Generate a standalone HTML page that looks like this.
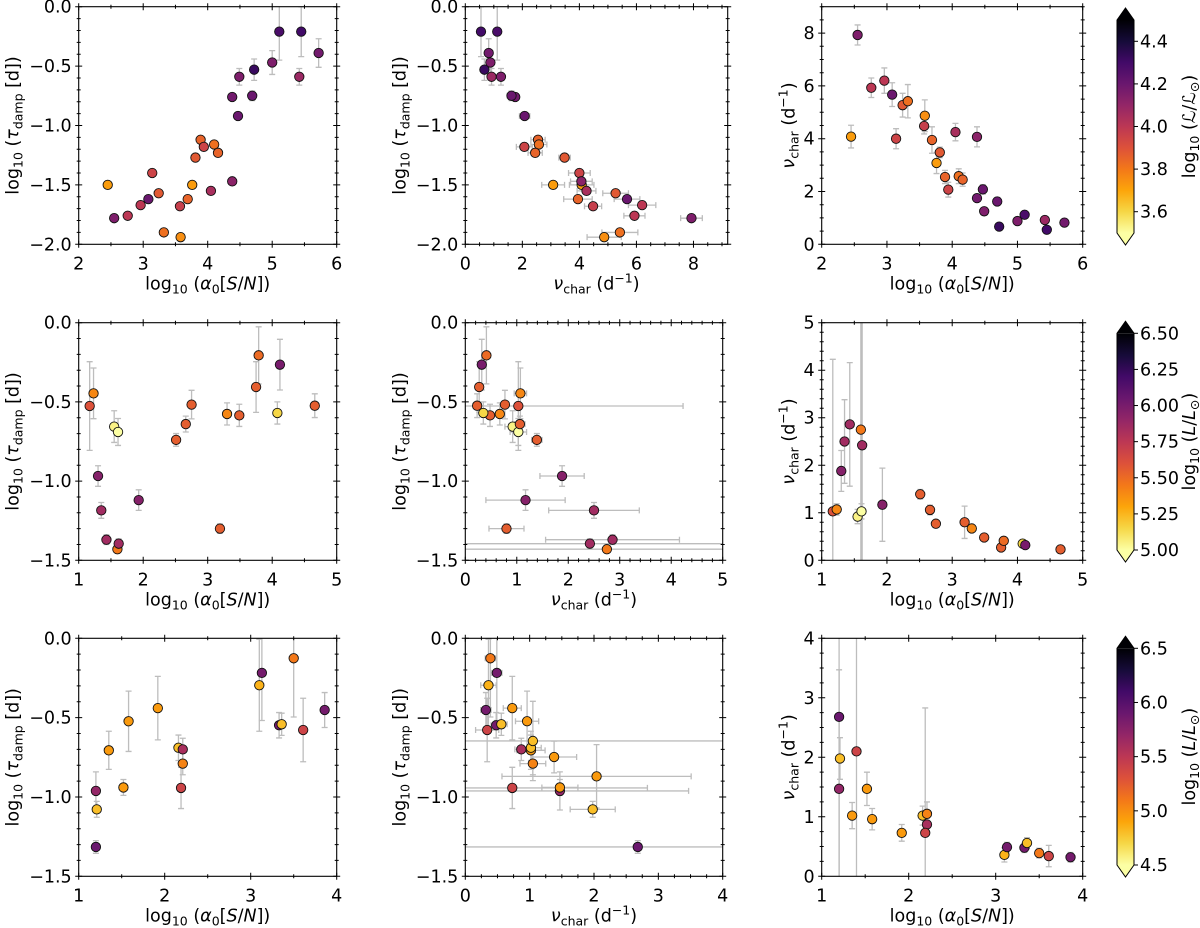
<!DOCTYPE html>
<html><head><meta charset="utf-8">
<style>
html,body{margin:0;padding:0;background:#fff;}
svg{display:block;font-family:"DejaVu Sans","Liberation Sans",sans-serif;}
</style></head>
<body>
<svg id="fig" xmlns="http://www.w3.org/2000/svg" width="1200" height="928" viewBox="0 0 1200 928">
<defs>
<linearGradient id="infgrad" x1="0" y1="1" x2="0" y2="0">
<stop offset="0" stop-color="#fcffa4"/><stop offset="0.1" stop-color="#f6d746"/><stop offset="0.2" stop-color="#fca50a"/><stop offset="0.3" stop-color="#f37819"/><stop offset="0.4" stop-color="#dd513a"/><stop offset="0.5" stop-color="#bc3754"/><stop offset="0.6" stop-color="#932667"/><stop offset="0.7" stop-color="#6a176e"/><stop offset="0.8" stop-color="#420a68"/><stop offset="0.9" stop-color="#160b39"/><stop offset="1" stop-color="#000004"/>
</linearGradient>
</defs>
</svg>
<script>
// ---- Row 1 data ----
const r1_sn=[2.45,2.55,2.76,2.96,3.08,3.14,3.24,3.32,3.57,3.58,3.69,3.76,3.81,3.89,3.94,4.05,4.10,4.16,4.38,4.38,4.47,4.49,4.69,4.72,5.00,5.11,5.42,5.45,5.72];
const r1_tau=[-1.50,-1.78,-1.76,-1.67,-1.62,-1.40,-1.57,-1.90,-1.68,-1.94,-1.62,-1.50,-1.27,-1.12,-1.18,-1.55,-1.16,-1.23,-0.76,-1.47,-0.92,-0.59,-0.75,-0.53,-0.47,-0.21,-0.59,-0.21,-0.39];
const r1_tauErr=[0.02,0.02,0.02,0.02,0.02,0.02,0.02,0.02,0.02,0.02,0.02,0.02,0.02,0.02,0.02,0.02,0.02,0.02,0.02,0.02,0.03,0.07,0.04,0.09,0.1,0.24,0.07,0.21,0.12];
const r1_nu=[4.08,7.93,5.93,6.20,5.67,4.00,5.27,5.42,4.48,4.87,3.95,3.08,3.48,2.55,2.07,4.25,2.58,2.45,1.75,4.07,2.08,1.25,1.62,0.67,0.88,1.12,0.92,0.55,0.82];
const r1_nuErr=[0.43,0.38,0.37,0.48,0.45,0.38,0.45,0.63,0.30,0.60,0.50,0.40,0.20,0.25,0.28,0.33,0.28,0.25,0.12,0.38,0.18,0.10,0.15,0.08,0.08,0.08,0.08,0.08,0.08];
const r1_lum=[3.72,4.15,4.0,4.0,4.2,3.95,3.88,3.82,3.97,3.75,3.85,3.72,3.88,3.85,3.95,4.05,3.82,3.85,4.18,4.12,4.2,4.15,4.2,4.32,4.15,4.28,4.08,4.3,4.18];
// ---- Row 2 data ----
const r2_sn=[1.17,1.23,1.30,1.35,1.43,1.55,1.61,1.60,1.62,1.93,2.51,2.66,2.75,3.19,3.30,3.49,3.75,3.79,4.08,4.12,4.66];
const r2_tau=[-0.526,-0.446,-0.968,-1.185,-1.37,-0.656,-0.69,-1.43,-1.395,-1.12,-0.74,-0.64,-0.517,-1.30,-0.576,-0.585,-0.406,-0.206,-0.57,-0.265,-0.524];
const r2_tauErr=[0.28,0.16,0.065,0.05,0.03,0.1,0.085,0.02,0.03,0.065,0.04,0.05,0.09,0.03,0.07,0.07,0.16,0.18,0.07,0.16,0.075];
const r2_nu=[1.03,1.07,1.88,2.50,2.86,0.92,1.03,2.75,2.42,1.17,1.39,1.06,0.77,0.80,0.67,0.48,0.27,0.41,0.35,0.32,0.23];
const r2_nuErr=[3.2,0.12,0.43,0.88,1.3,0.15,0.16,5,5,0.77,0.1,0.1,0.07,0.34,0.07,0.07,0.06,0.05,0.06,0.03,0.08];
const r2_lum=[5.6,5.4,5.95,5.85,5.85,5.05,5.0,5.45,5.85,5.95,5.55,5.55,5.55,5.55,5.4,5.55,5.55,5.5,5.15,6.0,5.55];
// ---- Row 3 data ----
const r3_sn=[1.20,1.21,1.20,1.35,1.52,1.58,1.92,2.16,2.21,2.21,2.19,3.10,3.13,3.33,3.36,3.50,3.61,3.86,NaN,NaN,NaN,1.40];
const r3_tau=[-0.962,-1.078,-1.315,-0.706,-0.94,-0.523,-0.44,-0.69,-0.70,-0.79,-0.943,-0.296,-0.218,-0.548,-0.542,-0.126,-0.578,-0.452,-0.647,-0.748,-0.87,NaN];
const r3_tauErr=[0.12,0.05,0.04,0.12,0.05,0.19,0.2,0.08,0.07,0.07,0.13,0.29,0.3,0.08,0.07,0.37,0.2,0.11,0.25,0.1,0.2,0];
const r3_nu=[1.47,1.98,2.68,1.02,1.47,0.96,0.73,1.02,0.87,1.05,0.73,0.36,0.49,0.48,0.56,0.39,0.34,0.32,1.05,1.38,2.04,2.10];
const r3_nuErr=[2.0,0.35,3.0,0.22,0.28,0.18,0.14,0.16,0.1,0.2,2.1,0.12,0.08,0.08,0.09,0.08,0.18,0.08,5,0.35,1.47,2.5];
const r3_lum=[5.7,4.8,5.9,4.95,4.95,4.95,4.95,4.8,5.6,5.05,5.4,4.85,5.85,5.85,4.8,5.1,5.4,5.85,4.8,4.95,4.95,5.4];
// colorbar tick labels
const cb1_ticks=["3.6","3.8","4.0","4.2","4.4"];
const cb2_ticks=["5.00","5.25","5.50","5.75","6.00","6.25","6.50"];
const cb3_ticks=["4.5","5.0","5.5","6.0","6.5"];

const NS="http://www.w3.org/2000/svg";
const svg=document.getElementById('fig');
const FS=17.5, SFS=12.5;
const inferno=[[0,0,4],[22,11,57],[66,10,104],[106,23,110],[147,38,103],[188,55,84],[221,81,58],[243,120,25],[252,165,10],[246,215,70],[252,255,164]];
function cmap(v,lo,hi){
  let t=1-(v-lo)/(hi-lo); t=Math.max(0,Math.min(1,t));
  const f=t*10, i=Math.min(9,Math.floor(f)), r=f-i;
  const a=inferno[i], b=inferno[i+1];
  return 'rgb('+a.map((c,k)=>Math.round(c+(b[k]-c)*r)).join(',')+')';
}
function mk(tag,attrs,parent){
  const e=document.createElementNS(NS,tag);
  for(const k in attrs) e.setAttribute(k,attrs[k]);
  (parent||svg).appendChild(e); return e;
}
function fmtTick(v,d){ const s=Math.abs(v).toFixed(d); return (v<-1e-9?'\u2212':'')+s; }
let clipId=0;
const LBL_SN='log<tspan dy="4" font-size="'+SFS+'">10</tspan><tspan dy="-4"> (</tspan><tspan font-style="italic">α</tspan><tspan dy="4" font-size="'+SFS+'">0</tspan><tspan dy="-4">[</tspan><tspan font-style="italic">S</tspan>/<tspan font-style="italic">N</tspan>])';
const LBL_TAU='log<tspan dy="4" font-size="'+SFS+'">10</tspan><tspan dy="-4"> (</tspan><tspan font-style="italic">τ</tspan><tspan dy="4" font-size="'+SFS+'">damp</tspan><tspan dy="-4"> [d])</tspan>';
const LBL_NU='<tspan font-style="italic">ν</tspan><tspan dy="4" font-size="'+SFS+'">char</tspan><tspan dy="-4"> (d</tspan><tspan dy="-7" font-size="'+SFS+'">−1</tspan><tspan dy="7">)</tspan>';

function panel(name,b,xl,yl,xmaj,xmin,xdec,ymaj,ymin,ydec,xs,ys,xe,ye,lum,clo,chi,xlab,ylab,ylabOff){
  const g=mk('g',{});
  
  
  const X=v=>b.x0+(v-xl[0])/(xl[1]-xl[0])*(b.x1-b.x0);
  const Y=v=>b.y1-(v-yl[0])/(yl[1]-yl[0])*(b.y1-b.y0);
  const cid='clip'+(clipId++);
  const cp=mk('clipPath',{id:cid},g); mk('rect',{x:b.x0,y:b.y0,width:b.x1-b.x0,height:b.y1-b.y0},cp);
  const dg=mk('g',{'clip-path':'url(#'+cid+')'},g);
  const ec='#bdbdbd';
  for(let i=0;i<xs.length;i++){
    if(isNaN(xs[i])||isNaN(ys[i])) continue;
    const cx=X(xs[i]), cy=Y(ys[i]);
    if(ye && ye[i]>0){
      const a=Y(ys[i]+ye[i]), c=Y(ys[i]-ye[i]);
      const l=mk('path',{d:`M${cx},${a}V${c}M${cx-3},${a}H${cx+3}M${cx-3},${c}H${cx+3}`,stroke:ec,'stroke-width':1.3,fill:'none'},dg);
      
      
    }
    if(xe && xe[i]>0){
      const a=X(xs[i]-xe[i]), c=X(xs[i]+xe[i]);
      const l=mk('path',{d:`M${a},${cy}H${c}M${a},${cy-3}V${cy+3}M${c},${cy-3}V${cy+3}`,stroke:ec,'stroke-width':1.3,fill:'none'},dg);
      
      
    }
  }
  for(let i=0;i<xs.length;i++){
    if(isNaN(xs[i])||isNaN(ys[i])) continue;
    const p=mk('circle',{cx:X(xs[i]),cy:Y(ys[i]),r:4.7,fill:cmap(lum[i],clo,chi),stroke:'#111','stroke-width':0.9},dg);
    
    
  }
  const tk=mk('g',{stroke:'#000','stroke-width':1},g);
  const eps=1e-6;
  for(let v=xl[0];v<=xl[1]+eps;v+=xmin){
    const isMaj=Math.abs(v/xmaj-Math.round(v/xmaj))<1e-4;
    const L=isMaj?3.5:2, x=X(v);
    mk('path',{d:`M${x},${b.y1-L}V${b.y1+L}M${x},${b.y0-L}V${b.y0+L}`},tk);
  }
  for(let v=yl[0];v<=yl[1]+eps;v+=ymin){
    const isMaj=Math.abs(v/ymaj-Math.round(v/ymaj))<1e-4;
    const L=isMaj?3.5:2, y=Y(v);
    mk('path',{d:`M${b.x0-L},${y}H${b.x0+L}M${b.x1-L},${y}H${b.x1+L}`},tk);
  }
  mk('rect',{x:b.x0,y:b.y0,width:b.x1-b.x0,height:b.y1-b.y0,fill:'none',stroke:'#000','stroke-width':1.1},g);
  for(let v=Math.ceil(xl[0]/xmaj-eps)*xmaj;v<=xl[1]+eps;v+=xmaj){
    const t=mk('text',{x:X(v),y:b.y1+25,'text-anchor':'middle','font-size':FS},g);
    t.textContent=fmtTick(v,xdec);
    
    
  }
  for(let v=Math.ceil(yl[0]/ymaj-eps)*ymaj;v<=yl[1]+eps;v+=ymaj){
    const t=mk('text',{x:b.x0-7,y:Y(v)+6,'text-anchor':'end','font-size':FS},g);
    t.textContent=fmtTick(v,ydec);
    
    
  }
  const xt=mk('text',{x:(b.x0+b.x1)/2,y:b.y1+45,'text-anchor':'middle','font-size':FS},g);
  xt.innerHTML=xlab;
  
  
  const yx=b.x0-ylabOff, yy=(b.y0+b.y1)/2;
  const yt=mk('text',{x:yx,y:yy,'text-anchor':'middle','font-size':FS,transform:`rotate(-90 ${yx} ${yy})`},g);
  yt.innerHTML=ylab;
  
  
}

function colorbar(name,y0,y1,lo,hi,labels,lab){
  const g=mk('g',{});
  
  
  const x0=1117,x1=1134,tri=12;
  mk('rect',{x:x0,y:y0,width:x1-x0,height:y1-y0,fill:'url(#infgrad)'},g);
  mk('path',{d:`M${x0},${y0}L${(x0+x1)/2},${y0-tri}L${x1},${y0}Z`,fill:'#000004'},g);
  mk('path',{d:`M${x0},${y1}L${(x0+x1)/2},${y1+tri}L${x1},${y1}Z`,fill:'#fcffa4'},g);
  mk('path',{d:`M${x0},${y0}L${(x0+x1)/2},${y0-tri}L${x1},${y0}V${y1}L${(x0+x1)/2},${y1+tri}L${x0},${y1}Z`,fill:'none',stroke:'#000','stroke-width':1},g);
  const n=labels.length;
  for(let i=0;i<n;i++){
    const v=parseFloat(labels[i]);
    const y=y1-(v-lo)/(hi-lo)*(y1-y0);
    mk('path',{d:`M${x1},${y}H${x1+4}`,stroke:'#000','stroke-width':1},g);
    const t=mk('text',{x:x1+6,y:y+6,'font-size':FS},g);
    t.textContent=labels[i];
    
    
  }
  const lx=1195, ly=(y0+y1)/2;
  const t=mk('text',{x:lx,y:ly,'text-anchor':'middle','font-size':FS,transform:`rotate(-90 ${lx} ${ly})`},g);
  t.innerHTML=lab;
  
  
}

// Row 1
panel('panel-r1-tau-vs-sn',{x0:78.7,x1:336.7,y0:6.7,y1:244.3},[2,6],[-2,0],1,0.5,0,0.5,0.1,1,r1_sn,r1_tau,null,r1_tauErr,r1_lum,3.5,4.5,LBL_SN,LBL_TAU,60);
panel('panel-r1-tau-vs-nu',{x0:465.3,x1:727.7,y0:6.7,y1:244.3},[0,9.2],[-2,0],2,0.5,0,0.5,0.1,1,r1_nu,r1_tau,r1_nuErr,r1_tauErr,r1_lum,3.5,4.5,LBL_NU,LBL_TAU,60);
panel('panel-r1-nu-vs-sn',{x0:821.7,x1:1082.7,y0:6.7,y1:244.3},[2,6],[0,9],1,0.5,0,2,0.5,0,r1_sn,r1_nu,null,r1_nuErr,r1_lum,3.5,4.5,LBL_SN,LBL_NU,27);
colorbar('colorbar-r1',20,233,3.5,4.5,cb1_ticks,'log<tspan dy="4" font-size="'+SFS+'">10</tspan><tspan dy="-4"> (</tspan><tspan font-style="italic">ℒ</tspan>/<tspan font-style="italic">ℒ</tspan><tspan dy="4" font-size="'+SFS+'">⊙</tspan><tspan dy="-4">)</tspan>');
// Row 2
panel('panel-r2-tau-vs-sn',{x0:78.7,x1:336.7,y0:322.7,y1:560.3},[1,5],[-1.5,0],1,0.5,0,0.5,0.1,1,r2_sn,r2_tau,null,r2_tauErr,r2_lum,5.0,6.5,LBL_SN,LBL_TAU,60);
panel('panel-r2-tau-vs-nu',{x0:465.3,x1:722.7,y0:322.7,y1:560.3},[0,5],[-1.5,0],1,0.2,0,0.5,0.1,1,r2_nu,r2_tau,r2_nuErr,r2_tauErr,r2_lum,5.0,6.5,LBL_NU,LBL_TAU,60);
panel('panel-r2-nu-vs-sn',{x0:821.7,x1:1082.7,y0:322.7,y1:560.3},[1,5],[0,5],1,0.5,0,1,0.2,0,r2_sn,r2_nu,null,r2_nuErr,r2_lum,5.0,6.5,LBL_SN,LBL_NU,27);
colorbar('colorbar-r2',333.3,550,5.0,6.5,cb2_ticks,'log<tspan dy="4" font-size="'+SFS+'">10</tspan><tspan dy="-4"> (</tspan><tspan font-style="italic">L</tspan>/<tspan font-style="italic">L</tspan><tspan dy="4" font-size="'+SFS+'">⊙</tspan><tspan dy="-4">)</tspan>');
// Row 3
panel('panel-r3-tau-vs-sn',{x0:78.7,x1:336.7,y0:638.3,y1:876.3},[1,4],[-1.5,0],1,0.5,0,0.5,0.1,1,r3_sn,r3_tau,null,r3_tauErr,r3_lum,4.5,6.5,LBL_SN,LBL_TAU,60);
panel('panel-r3-tau-vs-nu',{x0:465.3,x1:722.7,y0:638.3,y1:876.3},[0,4],[-1.5,0],1,0.25,0,0.5,0.1,1,r3_nu,r3_tau,r3_nuErr,r3_tauErr,r3_lum,4.5,6.5,LBL_NU,LBL_TAU,60);
panel('panel-r3-nu-vs-sn',{x0:821.7,x1:1082.7,y0:638.3,y1:876.3},[1,4],[0,4],1,0.5,0,1,0.25,0,r3_sn,r3_nu,null,r3_nuErr,r3_lum,4.5,6.5,LBL_SN,LBL_NU,27);
colorbar('colorbar-r3',648.3,865,4.5,6.5,cb3_ticks,'log<tspan dy="4" font-size="'+SFS+'">10</tspan><tspan dy="-4"> (</tspan><tspan font-style="italic">L</tspan>/<tspan font-style="italic">L</tspan><tspan dy="4" font-size="'+SFS+'">⊙</tspan><tspan dy="-4">)</tspan>');
</script>
</body></html>
